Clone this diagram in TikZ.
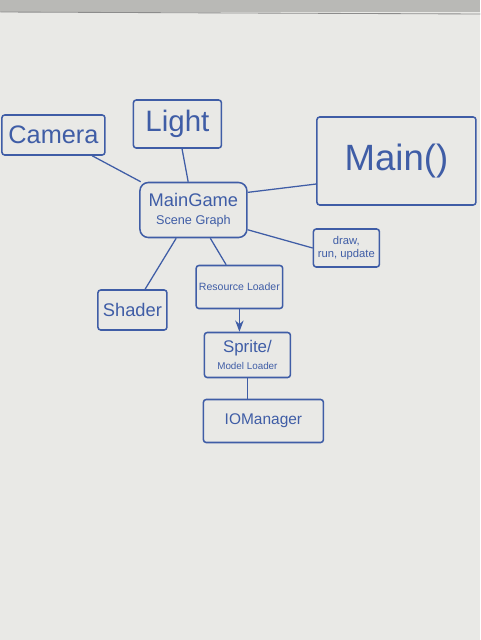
\documentclass[tikz,border=0pt]{standalone}
\usepackage{fontspec}
\setmainfont{Liberation Sans}
\usetikzlibrary{positioning,arrows.meta}

\definecolor{board}{HTML}{E9E9E6}
\definecolor{frame}{HTML}{B9B9B6}
\definecolor{marker}{HTML}{3F5DA6}

\begin{document}
\begin{tikzpicture}[x=0.025cm, y=-0.025cm,
    box/.style={rectangle, draw=marker, line width=1.1pt, text=marker, align=center, inner sep=2pt, rounded corners=2pt},
    link/.style={draw=marker, line width=0.9pt},
    arrow/.style={link, -{Stealth[length=8pt,width=6pt]}}]

% whiteboard
\fill[board] (0,0) rectangle (480,640);
\fill[frame] (0,0) rectangle (480,12);
\draw[black!45, line width=0.6pt] (0,12) -- (480,14);

\node[box, minimum width=2.575cm, minimum height=1cm, font=\fontsize{18}{20}\selectfont] (camera) at (53,135) {Camera};

\node[box, minimum width=2.2cm, minimum height=1.2cm, font=\fontsize{21}{24}\selectfont] (light) at (177,124) {Light};

\node[box, minimum width=3.975cm, minimum height=2.2cm, font=\fontsize{26}{30}\selectfont] (main) at (396,161) {Main()};

\node[box, rounded corners=6pt, minimum width=2.675cm, minimum height=1.375cm] (game) at (193,210) {{\fontsize{13}{15}\selectfont MainGame}\\[1pt]{\fontsize{9}{10}\selectfont Scene Graph}};

\node[box, minimum width=1.65cm, minimum height=0.95cm, font=\fontsize{8}{9}\selectfont] (loop) at (346,248) {draw,\\run, update};

\node[box, minimum width=2.05cm, minimum height=1.075cm, font=\fontsize{7.5}{9}\selectfont] (res) at (239,287) {Resource Loader};

\node[box, minimum width=1.725cm, minimum height=1cm, font=\fontsize{13}{15}\selectfont] (shader) at (132,310) {Shader};

\node[box, minimum width=2.15cm, minimum height=1.125cm] (sprite) at (247,355) {{\fontsize{12}{13}\selectfont Sprite/}\\{\fontsize{7}{8}\selectfont Model Loader}};

\node[box, minimum width=3cm, minimum height=1.075cm, font=\fontsize{11}{13}\selectfont] (io) at (263,421) {IOManager};

% connectors
\draw[link] (camera) -- (game);
\draw[link] (light) -- (game);
\draw[link] (game.18) -- (main.196);
\draw[link] (game.-20) -- (loop.west);
\draw[link] (game) -- (shader);
\draw[link] (game) -- (res);
\draw[arrow] (res.south) -- (res.south |- sprite.north);
\draw[link] (sprite.south) -- (sprite.south |- io.north);

\end{tikzpicture}
\end{document}
